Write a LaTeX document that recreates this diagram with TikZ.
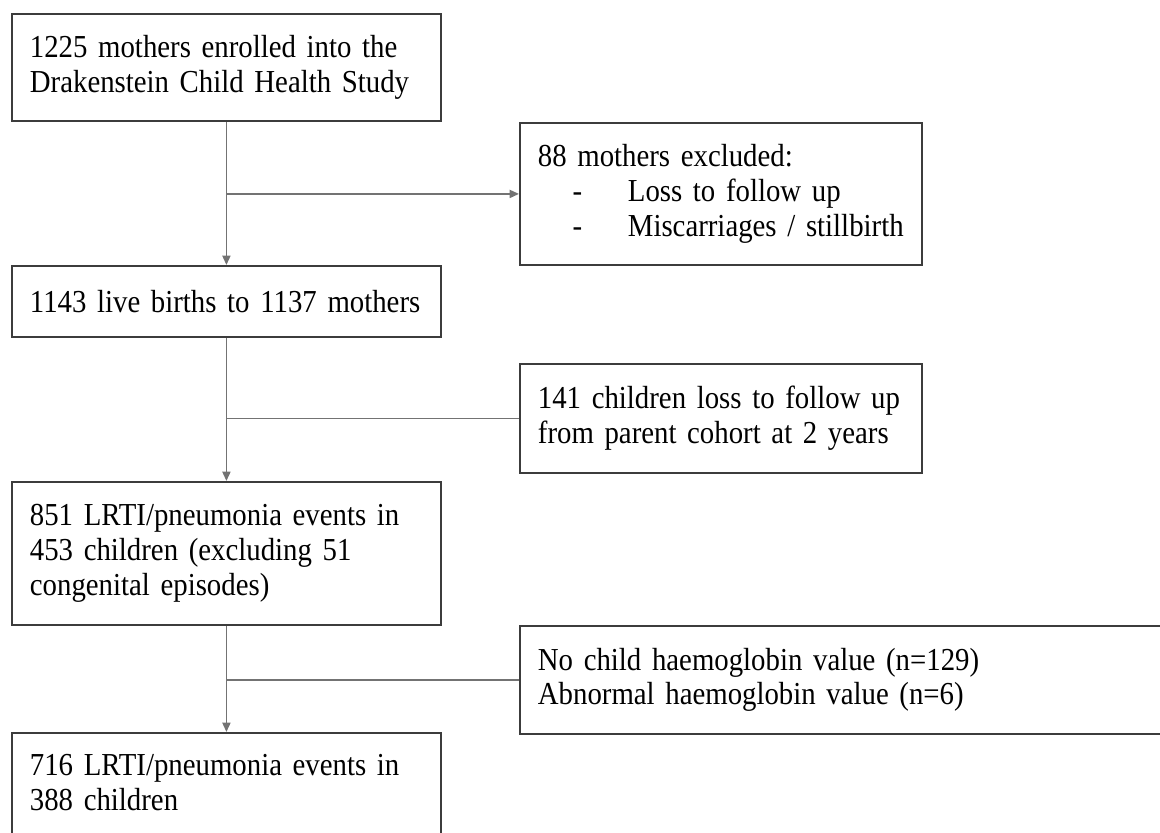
\documentclass[tikz,border=0pt]{standalone}
\usepackage{fontspec}
\setmainfont{Liberation Serif}[FakeStretch=0.9]
\usetikzlibrary{arrows.meta}

\definecolor{framegray}{RGB}{60,60,60}
\definecolor{linkgray}{RGB}{115,115,115}
\newcommand\flowfont{\fontsize{24}{26}\selectfont\spaceskip=4.5pt plus 1pt minus 1pt\relax}

\begin{document}
\begin{tikzpicture}[x=0.75pt,y=-0.75pt]
	\useasboundingbox (0,0) rectangle (1160,832);
	\clip (0,0) rectangle (1160,832);

	\begin{scope}[every node/.style={draw=framegray,line width=1.4pt,rectangle,
		anchor=north west,align=left,inner xsep=13.5pt,inner ysep=0pt,
		font=\flowfont}]
		\node[minimum width=321.75pt,minimum height=80.25pt,text width=294.75pt] (enrol) at (11,13)
			{1225 mothers enrolled into the\\Drakenstein Child Health Study};
		\node[minimum width=321.75pt,minimum height=53.25pt,text width=294.75pt] (births) at (11,265)
			{1143 live births to 1137 mothers};
		\node[minimum width=321.75pt,minimum height=107.25pt,text width=294.75pt] (events) at (11,481)
			{851 LRTI/pneumonia events in\\453 children (excluding 51\\congenital episodes)};
		% frame runs past the lower edge, third line left empty
		\node[minimum width=321.75pt,minimum height=100pt,text width=294.75pt] (final) at (11,732)
			{716 LRTI/pneumonia events in\\388 children\\\mbox{}};

		\node[minimum width=301.5pt,minimum height=106.5pt,text width=274.5pt] (excl1) at (519,122)
			{88 mothers excluded:\\
			\makebox[67.5pt][l]{\hspace*{26pt}-}\mbox{Loss to follow up}\\
			\makebox[67.5pt][l]{\hspace*{26pt}-}\mbox{Miscarriages / stillbirth}};
		\node[minimum width=301.5pt,minimum height=81.75pt,text width=274.5pt] (excl2) at (519,363)
			{141 children loss to follow up\\from parent cohort at 2 years};
		\node[minimum width=495pt,minimum height=81pt,text width=468pt] (excl3) at (519,625)
			{No child haemoglobin value (n=129)\\Abnormal haemoglobin value (n=6)};
	\end{scope}

	\begin{scope}[>={Triangle[length=7pt,width=6pt]},
		every path/.style={draw=linkgray,line width=1.4pt}]
		\draw[->] (enrol) -- (births);
		\draw[->] (enrol.south |- excl1.west) -- (excl1.west);

		\draw[->] (births) -- (events);
		\draw (births.south |- excl2.west) -- (excl2.west);

		\draw[->] (events) -- (final);
		\draw (events.south |- excl3.west) -- (excl3.west);
	\end{scope}
\end{tikzpicture}
\end{document}
